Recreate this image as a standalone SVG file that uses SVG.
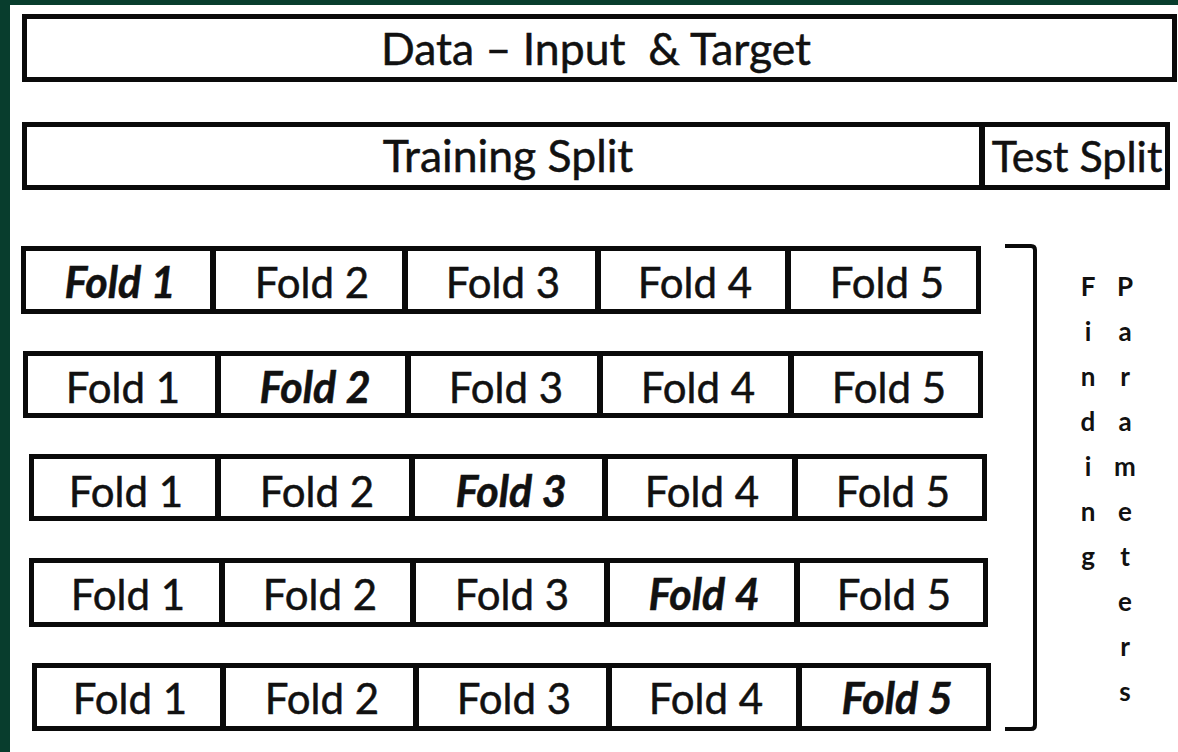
<svg xmlns="http://www.w3.org/2000/svg" width="1178" height="752" viewBox="0 0 1178 752">
  <style>
    .box { fill: #ffffff; stroke: #0a0a0a; stroke-width: 5; }
    .div { stroke: #0a0a0a; stroke-width: 6; }
    .lbl { font-family: Lato, "Open Sans", "Liberation Sans", sans-serif; font-size: 42px; fill: #111111; stroke: #111111; stroke-width: 0.5; text-anchor: middle; }
    .head { font-size: 44.5px; }
    .hold { font-weight: 700; font-style: italic; font-size: 43px; }
    .vert { font-family: Lato, "Open Sans", "Liberation Sans", sans-serif; font-size: 26px; font-weight: 700; fill: #111111; text-anchor: middle; }
    .brace { fill: none; stroke: #0a0a0a; stroke-width: 4; stroke-linejoin: round; }
  </style>

  <!-- page and frame bands -->
  <rect x="0" y="0" width="1178" height="752" fill="#ffffff"/>
  <rect x="0" y="0" width="1178" height="5" fill="#083d2d"/>
  <rect x="0" y="0" width="10" height="752" fill="#083d2d"/>

  <!-- full dataset -->
  <g id="data">
    <rect class="box" x="24.5" y="16.5" width="1150" height="63"/>
    <text class="lbl head" x="596" y="65" xml:space="preserve">Data – Input  &amp; Target</text>
  </g>

  <!-- train / test split -->
  <g id="split">
    <rect class="box" x="24.5" y="124.5" width="1143" height="63"/>
    <line class="div" x1="982" y1="124.5" x2="982" y2="187.5"/>
    <text class="lbl head" x="508" y="172">Training Split</text>
    <text class="lbl" x="1077" y="172" style="font-size:43px">Test Split</text>
  </g>

  <!-- cross-validation rounds -->
  <g id="round1">
    <rect class="box" x="23.5" y="248.5" width="955" height="63"/>
    <line class="div" x1="213" y1="248.5" x2="213" y2="311.5"/>
    <line class="div" x1="405" y1="248.5" x2="405" y2="311.5"/>
    <line class="div" x1="598" y1="248.5" x2="598" y2="311.5"/>
    <line class="div" x1="788" y1="248.5" x2="788" y2="311.5"/>
    <text class="lbl hold" x="120" y="298">Fold 1</text>
    <text class="lbl" x="312" y="298">Fold 2</text>
    <text class="lbl" x="503" y="298">Fold 3</text>
    <text class="lbl" x="695" y="298">Fold 4</text>
    <text class="lbl" x="887" y="298">Fold 5</text>
  </g>

  <g id="round2">
    <rect class="box" x="25.5" y="353.5" width="955" height="62"/>
    <line class="div" x1="218" y1="353.5" x2="218" y2="415.5"/>
    <line class="div" x1="408" y1="353.5" x2="408" y2="415.5"/>
    <line class="div" x1="600" y1="353.5" x2="600" y2="415.5"/>
    <line class="div" x1="791" y1="353.5" x2="791" y2="415.5"/>
    <text class="lbl" x="123" y="403">Fold 1</text>
    <text class="lbl hold" x="315" y="403">Fold 2</text>
    <text class="lbl" x="506" y="403">Fold 3</text>
    <text class="lbl" x="698" y="403">Fold 4</text>
    <text class="lbl" x="889" y="403">Fold 5</text>
  </g>

  <g id="round3">
    <rect class="box" x="31.5" y="456.5" width="953" height="62"/>
    <line class="div" x1="218" y1="456.5" x2="218" y2="518.5"/>
    <line class="div" x1="412" y1="456.5" x2="412" y2="518.5"/>
    <line class="div" x1="605" y1="456.5" x2="605" y2="518.5"/>
    <line class="div" x1="795" y1="456.5" x2="795" y2="518.5"/>
    <text class="lbl" x="126" y="507">Fold 1</text>
    <text class="lbl" x="317" y="507">Fold 2</text>
    <text class="lbl hold" x="511" y="507">Fold 3</text>
    <text class="lbl" x="702" y="507">Fold 4</text>
    <text class="lbl" x="893" y="507">Fold 5</text>
  </g>

  <g id="round4">
    <rect class="box" x="31.5" y="560.5" width="954" height="64"/>
    <line class="div" x1="222" y1="560.5" x2="222" y2="624.5"/>
    <line class="div" x1="413" y1="560.5" x2="413" y2="624.5"/>
    <line class="div" x1="607" y1="560.5" x2="607" y2="624.5"/>
    <line class="div" x1="797" y1="560.5" x2="797" y2="624.5"/>
    <text class="lbl" x="128" y="610">Fold 1</text>
    <text class="lbl" x="320" y="610">Fold 2</text>
    <text class="lbl" x="512" y="610">Fold 3</text>
    <text class="lbl hold" x="704" y="610">Fold 4</text>
    <text class="lbl" x="894" y="610">Fold 5</text>
  </g>

  <g id="round5">
    <rect class="box" x="34.5" y="665.5" width="954" height="63"/>
    <line class="div" x1="223" y1="665.5" x2="223" y2="728.5"/>
    <line class="div" x1="416" y1="665.5" x2="416" y2="728.5"/>
    <line class="div" x1="609" y1="665.5" x2="609" y2="728.5"/>
    <line class="div" x1="799" y1="665.5" x2="799" y2="728.5"/>
    <text class="lbl" x="130" y="714">Fold 1</text>
    <text class="lbl" x="322" y="714">Fold 2</text>
    <text class="lbl" x="514" y="714">Fold 3</text>
    <text class="lbl" x="706" y="714">Fold 4</text>
    <text class="lbl hold" x="897" y="714">Fold 5</text>
  </g>

  <!-- bracket grouping the five rounds -->
  <g id="connectors">
    <path class="brace" d="M1005,246 H1031 Q1035,246 1035,250 V725 Q1035,729 1031,729 H1005"/>
  </g>

  <!-- vertical caption: Finding Parameters -->
  <g id="caption">
    <text class="vert" x="1088" y="296">F</text>
    <text class="vert" x="1088" y="341">i</text>
    <text class="vert" x="1088" y="386">n</text>
    <text class="vert" x="1088" y="431">d</text>
    <text class="vert" x="1088" y="476">i</text>
    <text class="vert" x="1088" y="521">n</text>
    <text class="vert" x="1088" y="566">g</text>
    <text class="vert" x="1125" y="296">P</text>
    <text class="vert" x="1125" y="341">a</text>
    <text class="vert" x="1125" y="386">r</text>
    <text class="vert" x="1125" y="431">a</text>
    <text class="vert" x="1125" y="476">m</text>
    <text class="vert" x="1125" y="521">e</text>
    <text class="vert" x="1125" y="566">t</text>
    <text class="vert" x="1125" y="611">e</text>
    <text class="vert" x="1125" y="656">r</text>
    <text class="vert" x="1125" y="701">s</text>
  </g>
</svg>
